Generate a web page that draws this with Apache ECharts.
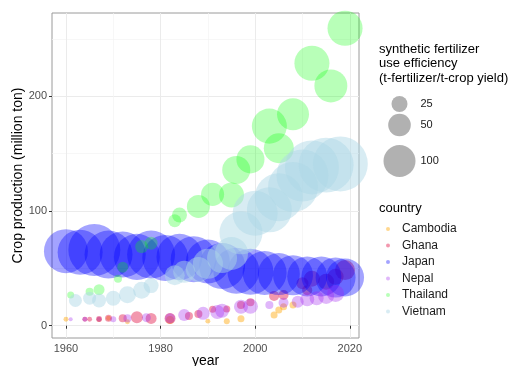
<!DOCTYPE html>
<html>
<head>
<meta charset="utf-8">
<script src="https://cdn.jsdelivr.net/npm/echarts@6/dist/echarts.min.js"></script>
<style>html,body{margin:0;padding:0;background:#fff}#c{width:517px;height:366px}</style>
</head>
<body>
<div id="c"></div>
<script>
// ---- data: [year, crop production (million ton), fertilizer use efficiency]
const countries = ['Cambodia', 'Ghana', 'Japan', 'Nepal', 'Thailand', 'Vietnam'];
const cambodia = [[1960,5.6,2.4],[1967,5.5,2.4],[1969,6.5,2.4],[1973,3.5,2.4],[1982,5,6.3],[1990,4,2.4],[1994,4,3.5],[1997,6,4.8],[2004,9.3,4.8],[2005,13.7,4.8],[2006,16.6,4.8],[2008,18,4.8]];
const ghana = [[1964,5.6,2.4],[1965,5.6,2.4],[1967,5.8,3.5],[1969,6.5,4.8],[1972,6.5,6.3],[1975,7.3,14.1],[1978,6.4,11.8],[1982,6.4,11.8],[1986,8.5,6.3],[1988,10.2,6.3],[1991,14.3,4.8],[1994,14.6,4.8],[1997,18,6.3],[1999,20.4,6.3],[2004,26,9.8],[2006,26.8,9.8],[2010,37,14.1],[2011,31,9.8],[2012,41,25],[2015,38.4,25],[2017,42.7,25],[2019,48.5,39]];
const japan = [[1960,65,189],[1963,64,198],[1966,66,264],[1969,62,225],[1972,62,207],[1975,60,207],[1978,62,225],[1981,59,207],[1984,60,207],[1987,58,207],[1990,56,189],[1993,52,207],[1996,48,207],[1999,47,207],[2002,46,189],[2005,45,172],[2008,44,156],[2011,43,156],[2014,43,156],[2017,42,156],[2019,42,141]];
const nepal = [[1961,5.6,1.6],[1964,5.6,2.4],[1967,5.6,2.4],[1970,5.6,3.5],[1973,6.4,6.3],[1977,7,7.9],[1982,6.5,9.8],[1985,9.3,14.1],[1989,10.8,16.5],[1992,12,19.1],[1993,13,19.1],[1997,16.6,19.1],[1999,17,22],[2003,18,6.3],[2006,20,9.8],[2009,21,14.1],[2011,23,19.1],[2013,24,19.1],[2015,26,25],[2017,28,28.2]];
const thailand = [[1961,26.8,4.8],[1965,29.6,6.3],[1967,31.4,11.8],[1971,41,6.3],[1972,51,11.8],[1976,69,16.5],[1978,72,16.5],[1983,91.5,16.5],[1984,96.5,22],[1988,104,52],[1991,114.5,52],[1995,114,61],[1996,135.7,77],[1999,145,77],[2003,174,120],[2005,154.7,88],[2008,184.3,100],[2012,228.8,120],[2016,209,106],[2019,259.3,120]];
const vietnam = [[1962,22,16.5],[1965,24,16.5],[1967,22,19.1],[1970,24,22],[1973,27,28.2],[1976,31,28.2],[1978,35,22],[1983,44,39],[1985,47,47.3],[1988,49,61],[1990,54,88],[1993,59,88],[1995,63,106],[1997,81,181],[2000,98,198],[2003,101,198],[2005,112,225],[2008,121,244],[2010,131,264],[2012,138,285],[2015,140,295],[2018,141,295]];
const seriesData = [cambodia, ghana, japan, nepal, thailand, vietnam];
const colors = ['rgba(255,165,0,0.55)','rgba(225,20,70,0.55)','rgba(0,0,255,0.45)','rgba(160,32,240,0.4)','rgba(0,255,0,0.35)','rgba(173,216,230,0.6)'];
const sizeBreaks = ['25', '50', '100'];
const xMajor = [1960, 1980, 2000, 2020];
const xMinor = [1970, 1990, 2010];
const yMajor = [0, 100, 200];
const yMinor = [50, 150, 250];

const FONT = 'Liberation Sans, Arial, sans-serif';
const sizeOf = v => 3.2 * Math.sqrt(v);

const chart = echarts.init(document.getElementById('c'), null, {renderer: 'canvas'});

const series = countries.map((c, i) => ({
  name: c, type: 'scatter', xAxisIndex: 0, yAxisIndex: 0,
  data: seriesData[i],
  symbolSize: d => sizeOf(d[2]),
  itemStyle: {color: colors[i], borderWidth: 0},
  emphasis: {disabled: true},
  animation: false
}));
sizeBreaks.forEach(b => series.push({
  name: b, type: 'scatter', data: [], itemStyle: {color: 'rgba(0,0,0,0.38)'}
}));

const legendCenters = [99, 120, 156];
const sizeLegends = sizeBreaks.map((b, i) => {
  const d = sizeOf(+b);
  return {
    data: [b], left: 394.5 - d / 2, top: legendCenters[i] - d / 2,
    itemWidth: d, itemHeight: d, icon: 'circle', selectedMode: false,
    textStyle: {fontFamily: FONT, fontSize: 11, color: '#1a1a1a', padding: [0, 0, 0, 415.5 - (394.5 + d / 2) - 5]}
  };
});

const axCommon = {
  type: 'value', axisLine: {show: false},
  axisLabel: {show: false}, axisTick: {show: false}
};

chart.setOption({
  animation: false,
  textStyle: {fontFamily: FONT},
  title: [
    {text: 'synthetic fertilizer\nuse efficiency\n(t-fertilizer/t-crop yield)', left: 374, top: 37,
     textStyle: {fontFamily: FONT, fontSize: 13, fontWeight: 'normal', color: '#000', lineHeight: 14.5}},
    {text: 'country', left: 374, top: 197,
     textStyle: {fontFamily: FONT, fontSize: 13, fontWeight: 'normal', color: '#000'}}
  ],
  legend: [
    {data: countries, orient: 'vertical', left: 381, top: 218, itemWidth: 4, itemHeight: 4, itemGap: 4.5,
     icon: 'circle', selectedMode: false,
     textStyle: {fontFamily: FONT, fontSize: 12, color: '#1a1a1a', padding: [0, 0, 0, 7]}}
  ].concat(sizeLegends),
  grid: {left: 52, top: 13, right: 158, bottom: 28, show: true, borderColor: '#9a9a9a', borderWidth: 1,
         backgroundColor: 'transparent', containLabel: false, outerBoundsMode: 'none'},
  xAxis: [
    Object.assign({}, axCommon, {
      min: 1957.05, max: 2021.95,
      splitLine: {show: true, lineStyle: {color: '#ebebeb', width: 1}},
      axisTick: {show: true, length: 3, customValues: xMajor, lineStyle: {color: '#333'}},
      axisLabel: {show: true, customValues: xMajor, formatter: v => String(v), color: '#4d4d4d', fontSize: 11, margin: 5, fontFamily: FONT},
      name: 'year', nameLocation: 'middle', nameGap: 16, nameMoveOverlap: false,
      nameTextStyle: {fontSize: 14, color: '#000', fontFamily: FONT}
    }),
    Object.assign({}, axCommon, {
      min: 1957.05, max: 2021.95, position: 'bottom',
      axisTick: {show: false, customValues: xMinor},
      splitLine: {show: true, lineStyle: {color: '#f3f3f3', width: 0.7}}
    })
  ],
  yAxis: [
    Object.assign({}, axCommon, {
      min: -10.7, max: 272.6,
      splitLine: {show: true, lineStyle: {color: '#ebebeb', width: 1}},
      axisTick: {show: true, length: 3, customValues: yMajor, lineStyle: {color: '#333'}},
      axisLabel: {show: true, customValues: yMajor, formatter: v => String(v), color: '#4d4d4d', fontSize: 11, margin: 5, fontFamily: FONT},
      name: 'Crop production (million ton)', nameLocation: 'middle', nameGap: 27, nameMoveOverlap: false,
      nameTextStyle: {fontSize: 14, color: '#000', fontFamily: FONT}
    }),
    Object.assign({}, axCommon, {
      min: -10.7, max: 272.6, position: 'left',
      axisTick: {show: false, customValues: yMinor},
      splitLine: {show: true, lineStyle: {color: '#f3f3f3', width: 0.7}}
    })
  ],
  series: series
});
</script>
</body>
</html>
